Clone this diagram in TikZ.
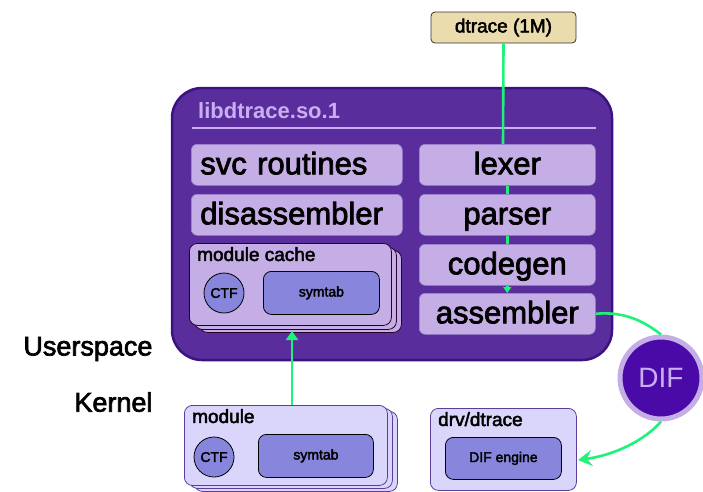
\documentclass[tikz,border=0pt]{standalone}
\usepackage{fontspec}
\setmainfont{Liberation Sans}
\newfontfamily\med{Liberation Sans}[FakeBold=2.5]
\usetikzlibrary{arrows.meta}
\definecolor{outerfill}{HTML}{5A2D9C}
\definecolor{outerbord}{HTML}{3A1380}
\definecolor{lpurple}{HTML}{C5AEE6}
\definecolor{lbord}{HTML}{9E84CE}
\definecolor{titlecol}{HTML}{C9AFF2}
\definecolor{tan}{HTML}{EADCAD}
\definecolor{peri}{HTML}{8786DC}
\definecolor{lav}{HTML}{D9D5FB}
\definecolor{lavbord}{HTML}{5B3D9E}
\definecolor{diffill}{HTML}{4A0AA8}
\definecolor{flowgreen}{HTML}{1EF27A}
\tikzset{
  px/.style={x=1pt,y=-1pt},
  inbox/.style={draw=lbord, line width=0.6pt, fill=lpurple, rounded corners=6pt, inner sep=0pt, text height=24pt, text depth=5pt, font=\med\fontsize{31}{31}\selectfont},
  stackbox/.style={draw=black!70!violet, line width=0.8pt, rounded corners=8pt},
  ctf/.style={circle, draw=black, line width=0.8pt, fill=peri, minimum size=40pt, inner sep=0pt, font=\med\fontsize{14}{14}\selectfont},
  symbox/.style={draw=black, line width=0.8pt, fill=peri, rounded corners=8pt, inner sep=0pt, font=\med\fontsize{14}{14}\selectfont},
  boxtitle/.style={anchor=north west, inner sep=0pt, font=\med\fontsize{19}{19}\selectfont},
  flow/.style={draw=flowgreen, line width=2.6pt},
  side/.style={anchor=east, font=\med\fontsize{27}{27}\selectfont},
}
\begin{document}
\begin{tikzpicture}[px]
\useasboundingbox (0,0) rectangle (703,491);
% dtrace (1M)
\node[draw=black!80, line width=0.8pt, fill=tan, rounded corners=4pt, minimum width=145pt, minimum height=31pt, inner sep=0pt, font=\med\fontsize{19}{19}\selectfont] (dt) at (503.5,27.5) {dtrace (1M)};
% outer libdtrace
\node[draw=outerbord, line width=2.5pt, fill=outerfill, rounded corners=30pt, minimum width=440pt, minimum height=272pt, inner sep=0pt] (lib) at (392,224) {};
\node[anchor=base west, text=titlecol, font=\bfseries\fontsize{22}{22}\selectfont, inner sep=0pt] (libt) at (198,118) {libdtrace.so.1};
\coordinate (ruleL) at (192,128);
\coordinate (ruleR) at (596,128);
\draw[titlecol, line width=2.5pt] (ruleL) -- (ruleR);
% green pipeline
\coordinate (lexTop) at (503,144);
\draw[flow] (dt.south) -- (lexTop);
% left boxes
\node[inbox, minimum width=211pt, minimum height=41pt, anchor=north west, text width=205pt, align=left] (svc) at (191,144) {\hspace*{6pt}svc routines};
\node[inbox, minimum width=211pt, minimum height=41pt, anchor=north west, text width=205pt, align=left] (dis) at (191,194) {\hspace*{6pt}disassembler};
% right boxes
\node[inbox, minimum width=176pt, minimum height=41pt, anchor=north west] (lex) at (419,144) {lexer};
\node[inbox, minimum width=176pt, minimum height=41pt, anchor=north west] (par) at (419,194) {parser};
\node[inbox, minimum width=176pt, minimum height=41pt, anchor=north west] (cg) at (419,244) {codegen};
\node[inbox, minimum width=176pt, minimum height=41pt, anchor=north west] (asm) at (419,293) {assembler};
\draw[flow] (lex.south) -- (par.north);
\draw[flow] (par.south) -- (cg.north);
\draw[flow, -{Triangle[length=6pt,width=8pt]}] (cg.south) -- (asm.north);
% module cache stack
\node[stackbox, fill=lpurple, minimum width=202pt, minimum height=82pt, anchor=north west] (mcs2) at (199,250) {};
\node[stackbox, fill=lpurple, minimum width=202pt, minimum height=82pt, anchor=north west] (mcs1) at (194,247) {};
\node[stackbox, fill=lpurple, minimum width=202pt, minimum height=82pt, anchor=north west] (mc) at (189,243) {};
\node[boxtitle] (mct) at (197,247) {module cache};
\node[ctf] (mcctf) at (224,293) {CTF};
\node[symbox, minimum width=116pt, minimum height=43pt, anchor=north west] (mcsym) at (263,271) {symtab};
% DIF circle
\node[circle, draw=lpurple, line width=5pt, fill=diffill, minimum size=82pt, inner sep=0pt, text=titlecol, font=\fontsize{28}{28}\selectfont] (dif) at (661,378) {DIF};
\draw[flow] (asm.east) .. controls (625,311) and (645,322) .. (dif.north);
% labels
\node[side] (us) at (156,349) {Userspace};
\node[side] (kn) at (156,402) {Kernel};
% module stack (kernel)
\node[stackbox, fill=lav, draw=lavbord, minimum width=203pt, minimum height=80pt, anchor=north west] (ms2) at (194,411) {};
\node[stackbox, fill=lav, draw=lavbord, minimum width=203pt, minimum height=80pt, anchor=north west] (ms1) at (189,408) {};
\node[stackbox, fill=lav, draw=lavbord, minimum width=203pt, minimum height=80pt, anchor=north west] (mod) at (184,405) {};
\node[boxtitle] (modt) at (192,409) {module};
\node[ctf] (mctf) at (214,457) {CTF};
\node[symbox, minimum width=115pt, minimum height=43pt, anchor=north west] (msym) at (258,434) {symtab};
\coordinate (modArr) at (292,405);
\coordinate (mcArr) at (292,331);
\draw[flow, -{Triangle[length=9pt,width=12pt]}] (modArr) -- (mcArr);
% drv/dtrace
\node[stackbox, fill=lav, draw=lavbord, minimum width=146pt, minimum height=82pt, anchor=north west] (drv) at (430,408) {};
\node[boxtitle] (drvt) at (438,412) {drv/dtrace};
\node[symbox, minimum width=116pt, minimum height=42pt, anchor=north west] (dife) at (445,437) {DIF engine};
\coordinate (drvIn) at (578,460);
\draw[flow, -{Stealth[length=14pt,width=16pt,inset=5pt]}] (dif.south) .. controls (645,440) and (615,455) .. (drvIn);
\end{tikzpicture}
\end{document}
